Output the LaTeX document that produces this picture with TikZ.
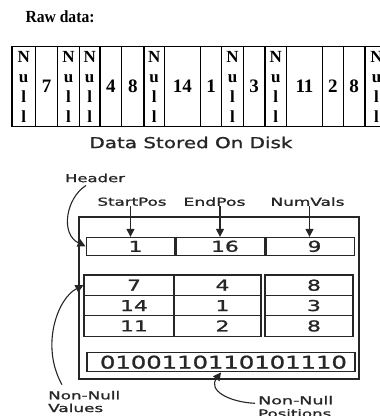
\documentclass[tikz,border=0pt]{standalone}
\usepackage{fontspec}
\usepackage{graphicx}
\setmainfont{Liberation Serif}
\newfontfamily\lblfont{DejaVu Sans}[BoldFont={DejaVu Sans}, BoldFeatures={FakeBold=1.1}]
\usetikzlibrary{arrows.meta}
\definecolor{ink}{gray}{0.15}
% stretch a text horizontally to a given width, keeping its height
\newcommand{\wideto}[2]{\resizebox{#1}{\height}{#2}}
% table digits: widened, set a little right of the cell centre
\newcommand{\widenum}[1]{\hspace*{10pt}\scalebox{1.45}[1]{#1}}
\newcommand{\nullword}{N\\u\\l\\l}
\newcommand{\rawnum}[1]{{\fontsize{19}{20}\selectfont #1}}

\begin{document}
\begin{tikzpicture}[x=1pt,y=-1pt,
  rawcell/.style={draw=black, line width=1.1pt, minimum height=80pt, inner sep=0pt,
    align=center, font=\fontsize{17}{20}\selectfont\bfseries},
  lbl/.style={inner sep=0pt, text=ink, font=\lblfont\bfseries\fontsize{11}{13}\selectfont},
  blockbox/.style={draw=ink, line width=1.3pt, minimum width=280pt, minimum height=162pt, inner sep=0pt},
  hcell/.style={draw=ink, line width=0.9pt, minimum height=18pt, inner sep=0pt,
    text=ink, font=\lblfont\bfseries\fontsize{15}{16}\selectfont},
  vcell/.style={draw=ink, line width=1.1pt, minimum height=20.35pt, inner sep=0pt,
    text=ink, font=\lblfont\bfseries\fontsize{15}{16}\selectfont},
  bitbox/.style={draw=ink, line width=1.4pt, minimum width=268pt, minimum height=19pt, inner sep=0pt,
    text=ink, font=\lblfont\bfseries\fontsize{17.5}{18}\selectfont},
  divider/.style={draw=ink, line width=2.2pt},
  conn/.style={draw=ink, line width=1.1pt, -{Triangle[length=8pt,width=8pt]}}
]
\useasboundingbox (0,0) rectangle (380,416);
\clip (0,0) rectangle (380,416);

% ---- raw data row ----
\node[anchor=base west, font=\fontsize{17}{20}\selectfont\bfseries] (rawtitle) at (22,22.7)
  {\wideto{69pt}{Raw data:}};
\foreach \l/\r/\t [count=\i] in {12/35.3/\nullword, 35.3/57.7/\rawnum{7}, 57.7/79.3/\nullword,
    79.3/100/\nullword, 100/121.7/\rawnum{4}, 121.7/144/\rawnum{8}, 144/164.3/\nullword,
    164.3/200.3/\rawnum{14}, 200.3/221.7/\rawnum{1}, 221.7/243.3/\nullword,
    243.3/265/\rawnum{3}, 265/286.7/\nullword, 286.7/322.3/\rawnum{11},
    322.3/343.3/\rawnum{2}, 343.3/365/\rawnum{8}, 365/388/\nullword}
  \node[rawcell, minimum width={(\r-\l)*1pt}] (raw\i) at ({(\l+\r)/2},86.7) {\t};

\node[text=ink, font=\lblfont\bfseries\fontsize{15}{16}\selectfont] (disk) at (191,142.5)
  {\wideto{203pt}{Data Stored On Disk}};

% ---- column block ----
\node[blockbox] (block) at (219,298) {};

\node[lbl] (hdr) at (95,178) {\wideto{60pt}{Header}};
\node[lbl] (sp) at (132,201.7) {\wideto{69pt}{StartPos}};
\node[lbl] (ep) at (214.5,201.7) {\wideto{62pt}{EndPos}};
\node[lbl] (nv) at (307.5,201.7) {\wideto{74pt}{NumVals}};

% header
\node[hcell, minimum width=89pt] (h1) at (130.5,246.3) {\widenum{1}};
\node[hcell, minimum width=90pt] (h2) at (220,246.3) {\widenum{16}};
\node[hcell, minimum width=89pt] (h3) at (309.5,246.3) {\widenum{9}};
\draw[divider] (h1.north east) -- (h1.south east);
\draw[divider] (h2.north east) -- (h2.south east);

% non-null values
\foreach \a/\b/\c [count=\r] in {7/4/8, 14/1/3, 11/2/8} {
  \node[vcell, minimum width=90pt] (v\r1) at (129,{264.85+20.35*\r}) {\widenum{\a}};
  \node[vcell, minimum width=87pt] (v\r2) at (217.5,{264.85+20.35*\r}) {\widenum{\b}};
  \node[vcell, minimum width=88pt] (v\r3) at (309,{264.85+20.35*\r}) {\widenum{\c}};
}

% non-null positions
\node[bitbox] (bits) at (221,362.2) {\hspace*{5pt}\wideto{247pt}{0100110110101110}};

\node[lbl, anchor=base west] (nnv) at (48,399.3) {\wideto{72pt}{Non-Null}};
\node[lbl, anchor=base west] (nnvb) at (48,412) {\wideto{55pt}{Values}};
\node[lbl, anchor=base west] (nnp) at (258,404.3) {\wideto{75pt}{Non-Null}};
\node[lbl, anchor=base west] (nnpb) at (258,417.5) {\wideto{73pt}{Positions}};

% connectors
\draw[conn] (sp.south -| h1.north) -- (h1.north);
\draw[conn] (ep.south -| h2.north) -- (h2.north);
\draw[conn] (nv.south -| h3.north) -- (h3.north);
\draw[conn] ([xshift=-9pt,yshift=-3pt]hdr.south) .. controls (66,198) and (60,234) .. (h1.west);
\draw[conn] ([xshift=14pt,yshift=6pt]nnv.north west) .. controls (40,345) and (58,298) .. (v11.west);
\draw[conn] ([xshift=-3pt,yshift=1pt]nnp.base west) .. controls (228,402) and (208,390) .. (bits.south);
\end{tikzpicture}
\end{document}
